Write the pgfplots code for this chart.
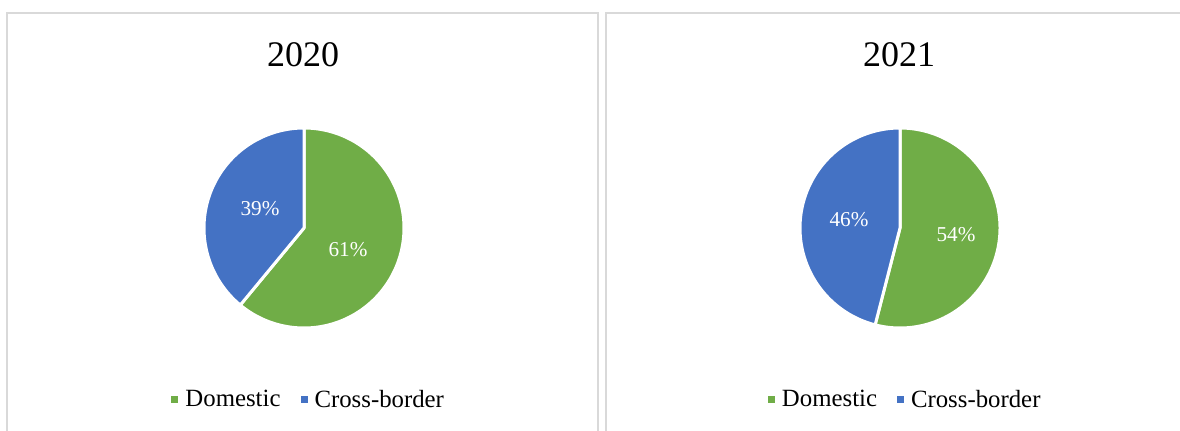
\documentclass[border=0pt]{standalone}
\usepackage{pgfplots}
\usepackage{pgfplotstable}
\pgfplotsset{compat=1.18}
\usepackage{fontspec}
\setmainfont{Liberation Serif}
\definecolor{cgreen}{HTML}{70AD47}
\definecolor{cblue}{HTML}{4472C4}
\definecolor{cborder}{HTML}{D9D9D9}

\pgfplotstableread{
label share
Domestic 61
Cross-border 39
}\tabA
\pgfplotstableread{
label share
Domestic 54
Cross-border 46
}\tabB

\pgfplotsset{
  panel/.style={
    at={(0pt,0pt)}, anchor=south west,
    scale only axis, width=590pt, height=215pt,
    xmin=0, xmax=1180, ymin=0, ymax=430,
    hide axis,
    legend columns=2,
    legend cell align=left,
    legend style={draw=none, fill=none, font=\fontsize{12.4pt}{14pt}\selectfont,
      /tikz/every even column/.append style={column sep=8pt}},
    legend image code/.code={\fill[##1, draw=none] (0pt,-1.75pt) rectangle (3.5pt,1.75pt);
      \path[draw=none, fill=none] (0pt,0pt) -- (5pt,0pt);},
  },
  slice/.style={draw=white, line width=1.5pt, line join=round, samples=160, variable=\t, forget plot},
}

\begin{document}
\begin{tikzpicture}
% angles for 2020
\pgfplotstablegetelem{0}{share}\of\tabA \let\sAa\pgfplotsretval
\pgfmathsetmacro\aAa{90-3.6*\sAa}
% angles for 2021
\pgfplotstablegetelem{0}{share}\of\tabB \let\sBa\pgfplotsretval
\pgfmathsetmacro\aBa{90-3.6*\sBa}

\begin{axis}[panel, legend style={at={(0.2625,0.07)}, anchor=center}]
  \draw[cborder, line width=1pt] (axis cs:7,-20) rectangle (axis cs:598,417);
  \node[font=\fontsize{18pt}{18pt}\selectfont] at (axis cs:303,375) {2020};
  \addplot[slice, fill=cgreen, domain=\aAa:90] ({304+100*cos(\t)},{202+100*sin(\t)}) -- (axis cs:304,202) -- cycle;
  \addplot[slice, fill=cblue, domain=-270:\aAa] ({304+100*cos(\t)},{202+100*sin(\t)}) -- (axis cs:304,202) -- cycle;
  \node[white, font=\fontsize{10.6pt}{12pt}\selectfont] at (axis cs:260,221) {39\%};
  \node[white, font=\fontsize{10.6pt}{12pt}\selectfont] at (axis cs:348,180) {61\%};
  \addlegendimage{cgreen}\addlegendentry{Domestic}
  \addlegendimage{cblue}\addlegendentry{Cross-border}
\end{axis}

\begin{axis}[panel, legend style={at={(0.768,0.07)}, anchor=center}]
  \draw[cborder, line width=1pt] (axis cs:606,-20) rectangle (axis cs:1200,417);
  \node[font=\fontsize{18pt}{18pt}\selectfont] at (axis cs:899,375) {2021};
  \addplot[slice, fill=cgreen, domain=\aBa:90] ({900+100*cos(\t)},{202+100*sin(\t)}) -- (axis cs:900,202) -- cycle;
  \addplot[slice, fill=cblue, domain=-270:\aBa] ({900+100*cos(\t)},{202+100*sin(\t)}) -- (axis cs:900,202) -- cycle;
  \node[white, font=\fontsize{10.6pt}{12pt}\selectfont] at (axis cs:849,210) {46\%};
  \node[white, font=\fontsize{10.6pt}{12pt}\selectfont] at (axis cs:956,195) {54\%};
  \addlegendimage{cgreen}\addlegendentry{Domestic}
  \addlegendimage{cblue}\addlegendentry{Cross-border}
\end{axis}

\pgfresetboundingbox
\useasboundingbox (0pt,0pt) rectangle (590pt,215pt);
\end{tikzpicture}
\end{document}
